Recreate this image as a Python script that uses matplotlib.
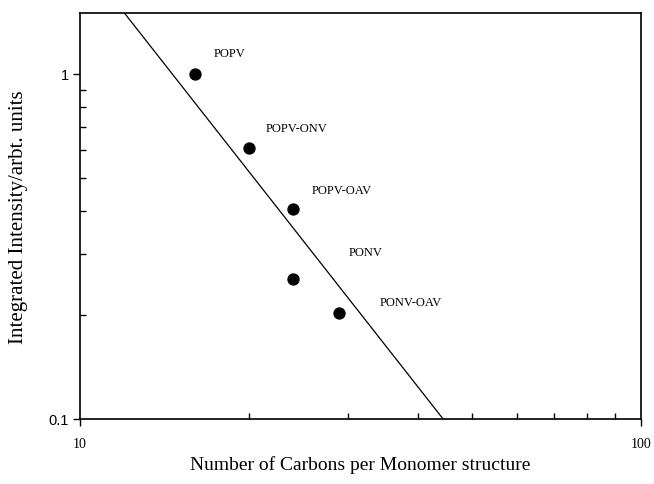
import numpy as np
import matplotlib.pyplot as plt
from matplotlib.ticker import LogLocator, NullFormatter, FixedLocator, FixedFormatter

# carbons per monomer vs. integrated intensity
names = ["POPV", "POPV-ONV", "POPV-OAV", "PONV", "PONV-OAV"]
carbons = [16, 20, 24, 24, 29]
intensity = [1.0, 0.61, 0.405, 0.255, 0.203]
label_off = [(14, 15), (12, 14), (13, 14), (40, 19), (29, 8)]  # points

# power-law guide line  I = A * N**k
fit_A = 257.0
fit_k = -2.07

serif = ["Liberation Serif", "DejaVu Serif"]

fig = plt.figure(figsize=(6.54, 4.85), dpi=100)
ax = fig.add_axes([80 / 654, 1 - 420 / 485, 561 / 654, 406 / 485])
ax.set_xscale("log")
ax.set_yscale("log")
ax.set_xlim(10, 100)
ax.set_ylim(0.1, 1.5)

n = np.logspace(1, 2, 200)
ax.plot(n, fit_A * n ** fit_k, color="black", lw=0.9)
ax.scatter(carbons, intensity, s=62, color="black", zorder=3)
for nm, x, y, off in zip(names, carbons, intensity, label_off):
    ax.annotate(nm, (x, y), xytext=off, textcoords="offset points",
                fontsize=9, family=serif, va="center", ha="left")

for s in ax.spines.values():
    s.set_linewidth(1.2)

ax.xaxis.set_major_locator(FixedLocator([10, 100]))
ax.xaxis.set_major_formatter(FixedFormatter(["10", "100"]))
ax.xaxis.set_minor_locator(LogLocator(base=10, subs=np.arange(2, 10)))
ax.xaxis.set_minor_formatter(NullFormatter())
ax.yaxis.set_major_locator(FixedLocator([0.1, 1]))
ax.yaxis.set_major_formatter(FixedFormatter(["0.1", "1"]))
ax.yaxis.set_minor_locator(LogLocator(base=10, subs=np.arange(2, 10)))
ax.yaxis.set_minor_formatter(NullFormatter())

ax.tick_params(which="major", direction="out", length=5, width=1, top=False, right=False)
ax.tick_params(which="minor", direction="in", length=4, width=1, top=False, right=False)
ax.tick_params(axis="x", which="major", labelsize=10, pad=8)
ax.tick_params(axis="y", which="major", labelsize=10.5, pad=3)
for t in ax.get_xticklabels():
    t.set_family(serif)
for t in ax.get_yticklabels():
    t.set_family(["Liberation Sans", "DejaVu Sans"])

ax.set_xlabel("Number of Carbons per Monomer structure", fontsize=14,
              family=serif, va="center")
ax.set_ylabel("Integrated Intensity/arbt. units", fontsize=15,
              family=serif, va="center")
ax.xaxis.set_label_coords(0.5, -(465 - 420) / 406)
ax.yaxis.set_label_coords(-(80 - 19) / 561, 0.5)

fig.savefig("out.png", dpi=100)
